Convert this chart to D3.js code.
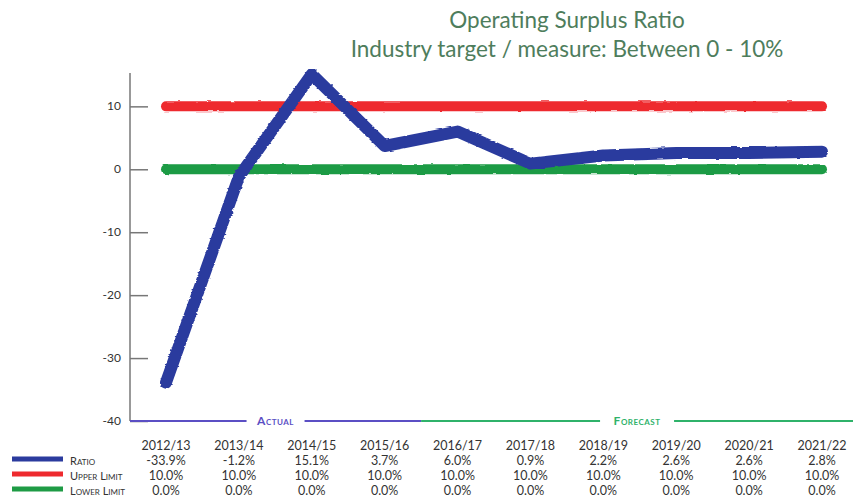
<!DOCTYPE html>
<html><head><meta charset="utf-8">
<script src="https://cdn.jsdelivr.net/npm/d3@7/dist/d3.min.js"></script>
<style>body{margin:0;background:#fff}</style>
</head><body><svg id="c" width="853" height="500"></svg>
<script>
const categories = ["2012/13","2013/14","2014/15","2015/16","2016/17","2017/18","2018/19","2019/20","2020/21","2021/22"];
const ratio = [-33.9,-1.2,15.1,3.7,6.0,0.9,2.2,2.6,2.6,2.8];
const upperLimit = [10,10,10,10,10,10,10,10,10,10];
const lowerLimit = [0,0,0,0,0,0,0,0,0,0];
const yTicks = [10,0,-10,-20,-30,-40];
const seriesNames = ["Ratio","Upper Limit","Lower Limit"];
const periods = [{label:"Actual", from:0, to:3}, {label:"Forecast", from:4, to:9}];

const svg = d3.select("#c");
const font = "Lato, 'Open Sans', sans-serif";
const x = d3.scalePoint().domain(categories).range([166, 822]);
const y = d3.scaleLinear().domain([-40, 15.3]).range([421, 73]);

// brush-like filter
const defs = svg.append("defs");
const f = defs.append("filter").attr("id","rough").attr("filterUnits","userSpaceOnUse")
  .attr("x",0).attr("y",0).attr("width",853).attr("height",500);
f.append("feTurbulence").attr("type","fractalNoise").attr("baseFrequency","0.08 0.5").attr("numOctaves",2).attr("seed",3).attr("result","n");
f.append("feDisplacementMap").attr("in","SourceGraphic").attr("in2","n").attr("scale",2.5).attr("xChannelSelector","R").attr("yChannelSelector","G");

// title
const titleColor = "#4e7d5c";
svg.append("text").attr("x", 567).attr("y", 28).attr("text-anchor","middle")
  .attr("font-family", font).attr("font-size", 22.5).attr("fill", titleColor).text("Operating Surplus Ratio");
svg.append("text").attr("x", 567).attr("y", 57).attr("text-anchor","middle")
  .attr("font-family", font).attr("font-size", 22.5).attr("fill", titleColor).text("Industry target / measure: Between 0 - 10%");

// y axis
const yAxis = d3.axisRight(y).tickValues(yTicks).tickSize(18).tickFormat("");
const ga = svg.append("g").attr("transform","translate(130,0)").call(yAxis);
ga.selectAll("path,line").attr("stroke","#777").attr("stroke-width",1.5);
ga.select(".domain").attr("d", `M0,${y.range()[1]}V${y.range()[0]}`);
svg.append("g").selectAll("text").data(yTicks).join("text")
  .attr("x", 121).attr("y", d => y(d) + 4).attr("text-anchor","end")
  .attr("font-family", font).attr("font-size", 12).attr("fill","#333").text(d => d);

// bottom period bars
const colsStep = x.step();
const periodColors = ["#5b4fc4","#2fb26a"];
periods.forEach((p,i) => {
  const x0 = i === 0 ? 130 : (x(categories[p.from]) - colsStep/2);
  const x1 = i === periods.length-1 ? 853 : (x(categories[p.to]) + colsStep/2);
  const cx = (x0 + x1)/2;
  const tw = p.label.length * 8 + 10;
  const g = svg.append("g");
  g.append("line").attr("x1", x0).attr("x2", cx - tw/2).attr("y1", 421).attr("y2", 421)
    .attr("stroke", periodColors[i]).attr("stroke-width", 2);
  g.append("line").attr("x1", cx + tw/2).attr("x2", x1).attr("y1", 421).attr("y2", 421)
    .attr("stroke", periodColors[i]).attr("stroke-width", 2);
  g.append("text").attr("x", cx).attr("y", 425).attr("text-anchor","middle")
    .attr("font-family", font).attr("font-size", 12).attr("font-weight","bold")
    .attr("font-variant","small-caps").attr("letter-spacing", 0.5)
    .attr("fill", periodColors[i]).text(p.label);
});

// lines
const line = d3.line().x((d,i) => x(categories[i])).y(d => y(d));
const series = [
  {vals: upperLimit, color:"#ee2a2e", w:10},
  {vals: lowerLimit, color:"#1e9b45", w:10},
  {vals: ratio, color:"#2b3b9e", w:12}
];
series.forEach(s => {
  svg.append("path").attr("d", line(s.vals)).attr("fill","none")
    .attr("stroke", s.color).attr("stroke-width", s.w).attr("filter","url(#rough)")
    .attr("stroke-linejoin","round").attr("stroke-linecap","round");
});

// table
svg.append("g").selectAll("text").data(categories).join("text")
  .attr("x", d => x(d)).attr("y", 450).attr("text-anchor","middle")
  .attr("font-family", font).attr("font-size", 12.5).attr("fill","#333").text(d => d);
const rows = [ratio, upperLimit, lowerLimit];
const rowY = [465, 480, 495];
const rowColors = ["#2b3b9e","#ee2a2e","#1e9b45"];
rows.forEach((r,ri) => {
  svg.append("g").selectAll("text").data(r).join("text")
    .attr("x", (d,i) => x(categories[i])).attr("y", rowY[ri]).attr("text-anchor","middle")
    .attr("font-family", font).attr("font-size", 12.5).attr("fill","#333").text(d => d.toFixed(1) + "%");
  svg.append("line").attr("x1", 12).attr("x2", 63).attr("y1", rowY[ri]-6).attr("y2", rowY[ri]-6)
    .attr("stroke", rowColors[ri]).attr("stroke-width", 5);
  svg.append("text").attr("x", 70).attr("y", rowY[ri]).attr("font-family", font)
    .attr("font-size", 11).attr("font-variant","small-caps").attr("fill","#333").text(seriesNames[ri]);
});
</script></body></html>
